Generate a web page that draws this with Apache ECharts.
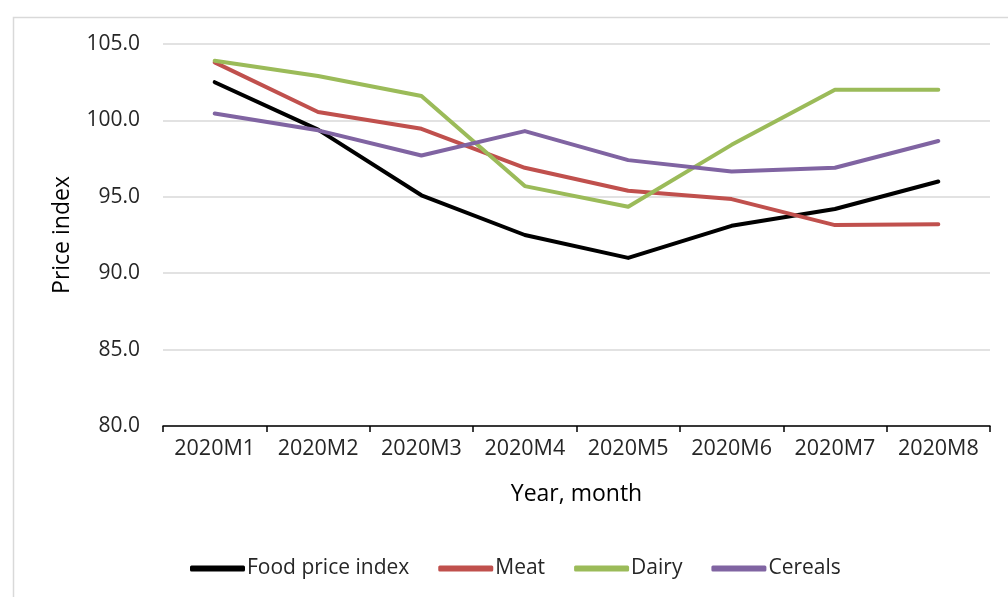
<!DOCTYPE html>
<html>
<head>
<meta charset="utf-8">
<style>
  html, body { margin: 0; padding: 0; background: #fff; }
  #chart { width: 1008px; height: 597px; }
</style>
<script src="https://cdn.jsdelivr.net/npm/echarts@6/dist/echarts.min.js"></script>
</head>
<body>
<div id="chart"></div>
<script>
// Monthly price indices, 2020
const months = ['2020M1', '2020M2', '2020M3', '2020M4', '2020M5', '2020M6', '2020M7', '2020M8'];
const foodPriceIndex = [102.5, 99.4, 95.1, 92.5, 91.0, 93.1, 94.2, 96.0];
const meat = [103.8, 100.55, 99.45, 96.9, 95.4, 94.85, 93.15, 93.2];
const dairy = [103.9, 102.9, 101.6, 95.7, 94.35, 98.4, 102.0, 102.0];
const cereals = [100.45, 99.35, 97.7, 99.3, 97.4, 96.65, 96.9, 98.65];

const FONT = '"Open Sans", "Liberation Sans", sans-serif';
const TEXT = '#262626';

const chart = echarts.init(document.getElementById('chart'), null, { renderer: 'canvas' });

function line(name, data, color) {
  return {
    name: name,
    type: 'line',
    data: data,
    symbol: 'none',
    lineStyle: { color: color, width: 4, cap: 'round', join: 'round' },
    itemStyle: { color: color },
    emphasis: { disabled: true }
  };
}

chart.setOption({
  animation: false,
  backgroundColor: '#ffffff',
  graphic: [{
    type: 'rect',
    left: 11, top: 15,
    shape: { width: 1100, height: 700 },
    style: { fill: 'none', stroke: '#d9d9d9', lineWidth: 1.5 },
    silent: true
  }],
  grid: { left: 163, right: 18, top: 44, bottom: 171 },
  xAxis: {
    type: 'category',
    data: months,
    boundaryGap: true,
    name: 'Year, month',
    nameLocation: 'middle',
    nameGap: 57,
    nameTextStyle: { fontFamily: FONT, fontSize: 23, color: '#000' },
    axisLine: { lineStyle: { color: '#000', width: 1.5 } },
    axisTick: { show: true, interval: 0, length: 6, lineStyle: { color: '#000', width: 1.5 } },
    axisLabel: { interval: 0, hideOverlap: false, fontFamily: FONT, fontSize: 21.5, color: TEXT, margin: 12 },
    splitLine: { show: false }
  },
  yAxis: {
    type: 'value',
    min: 80, max: 105, interval: 5,
    name: 'Price index',
    nameLocation: 'middle',
    nameGap: 89,
    nameRotate: 90,
    nameTextStyle: { fontFamily: FONT, fontSize: 23, color: '#000' },
    axisLine: { show: false },
    axisTick: { show: false },
    axisLabel: {
      fontFamily: FONT, fontSize: 21, color: TEXT, margin: 23,
      formatter: v => v.toFixed(1)
    },
    splitLine: { lineStyle: { color: '#d9d9d9', width: 1.5 } }
  },
  legend: {
    left: 185,
    top: 553,
    itemWidth: 55,
    itemHeight: 6,
    itemGap: 29,
    icon: 'roundRect',
    textStyle: { fontFamily: FONT, fontSize: 21, color: TEXT, padding: [0, 0, 0, -3] },
    data: ['Food price index', 'Meat', 'Dairy', 'Cereals']
  },
  series: [
    line('Food price index', foodPriceIndex, '#000000'),
    line('Meat', meat, '#C0504D'),
    line('Dairy', dairy, '#9BBB59'),
    line('Cereals', cereals, '#8064A2')
  ]
});
</script>
</body>
</html>
